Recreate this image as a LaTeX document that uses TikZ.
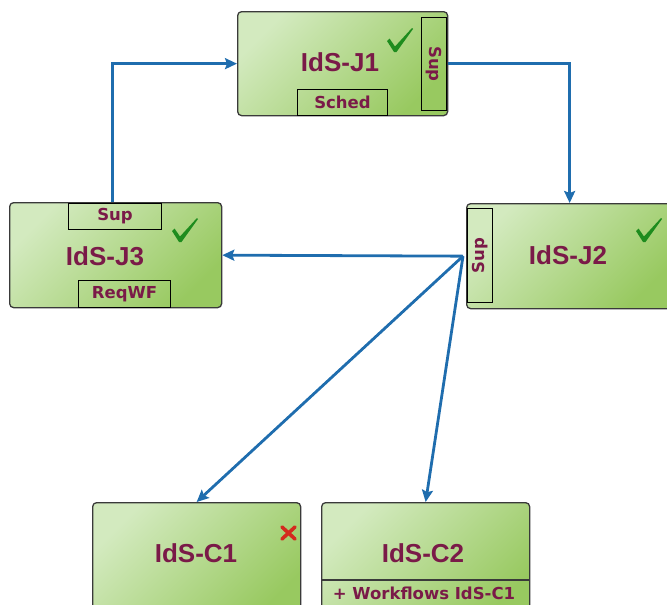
\documentclass[tikz,border=0pt]{standalone}
\usepackage{fontspec}
\setmainfont{Liberation Sans}
\newfontfamily\tabfont{DejaVu Sans}
\usetikzlibrary{arrows.meta}
\definecolor{boxlight}{HTML}{D3EABF}
\definecolor{boxdark}{HTML}{98C960}
\definecolor{inktext}{HTML}{7A1A48}
\definecolor{flowblue}{HTML}{1F6DAE}
\definecolor{okgreen}{HTML}{1E8C1E}
\definecolor{failred}{HTML}{D42A1E}
\definecolor{edgegrey}{HTML}{3A3A3A}
\begin{document}
\begin{tikzpicture}[x=1pt,y=-1pt,
  comp/.style={draw=edgegrey, line width=1.3pt, rounded corners=4pt,
    top color=boxlight, bottom color=boxdark, shading angle=45,
    inner sep=0pt, anchor=north west},
  tab/.style={draw=black, line width=1pt, fill=none, inner sep=0pt, anchor=north west},
  title/.style={text=inktext, font=\bfseries\fontsize{26}{30}\selectfont, inner sep=0pt},
  tabtext/.style={text=inktext, font=\tabfont\bfseries\fontsize{16.5}{19}\selectfont, inner sep=0pt},
  flow/.style={draw=flowblue, line width=2.8pt,
    -{Stealth[length=12pt,width=11pt,inset=2pt]}},
  pics/tick/.style={code={
    \fill[okgreen] (0,13) -- (2.5,10.5) -- (8,18.5) -- (25,0) -- (26,1)
      -- (9.5,24) -- (7,24) -- cycle;}}
]
\useasboundingbox (0,0) rectangle (667,605);
\clip (0,0) rectangle (667,605);

% component boxes
\node[comp, minimum width=210pt, minimum height=104pt] (j1) at (237,11) {};
\node[comp, minimum width=212pt, minimum height=105pt] (j3) at (9,202) {};
\node[comp, minimum width=206pt, minimum height=105pt] (j2) at (466,203) {};
\node[comp, minimum width=208pt, minimum height=118pt] (c1) at (92,502) {};
\node[comp, minimum width=208pt, minimum height=118pt] (c2) at (321,502) {};

% port tabs
\node[tab, minimum width=90pt, minimum height=26pt] (j1sched) at (297,89) {};
\node[tab, minimum width=25pt, minimum height=93pt] (j1sup) at (421,17) {};
\node[tab, minimum width=93pt, minimum height=26pt] (j3sup) at (68,203) {};
\node[tab, minimum width=92pt, minimum height=27pt] (j3req) at (78,280) {};
\node[tab, minimum width=25pt, minimum height=94pt] (j2sup) at (467,208) {};

\node[tabtext] (j1schedt) at (j1sched.center) {Sched};
\node[tabtext, rotate=-90] (j1supt) at (j1sup.center) {Sup};
\node[tabtext] (j3supt) at (j3sup.center) {Sup};
\node[tabtext] (j3reqt) at (j3req.center) {ReqWF};
\node[tabtext, rotate=90] (j2supt) at (j2sup.center) {Sup};

% C2 compartment
\draw[edgegrey, line width=1.3pt] (c2.west |- 0,580) -- (c2.east |- 0,580);
\node[tabtext] (c2wf) at (424,593) {+ Workflows IdS-C1};

% titles
\node[title] (j1t) at (340,62) {IdS-J1};
\node[title] (j3t) at (105,256) {IdS-J3};
\node[title] (j2t) at (568,255) {IdS-J2};
\node[title] (c1t) at (196,553) {IdS-C1};
\node[title] (c2t) at (423,553) {IdS-C2};

% status marks
\pic at (387,28) {tick};
\pic at (172,218) {tick};
\pic at (636,218) {tick};
\draw[failred, line width=3.6pt, line cap=round] (282,527) -- (295,539) (282,539) -- (295,527);

% connectors
\coordinate (hub) at ([xshift=-3pt]j2.west);
\draw[flow] ([xshift=-3pt]j3.north) |- (j1.west);
\draw[flow] (j1.east) -| (j2.north);
\draw[flow] (hub) -- (j3.east);
\draw[flow] (hub) -- (c1.north);
\draw[flow] (hub) -- (c2.north);
\end{tikzpicture}
\end{document}
